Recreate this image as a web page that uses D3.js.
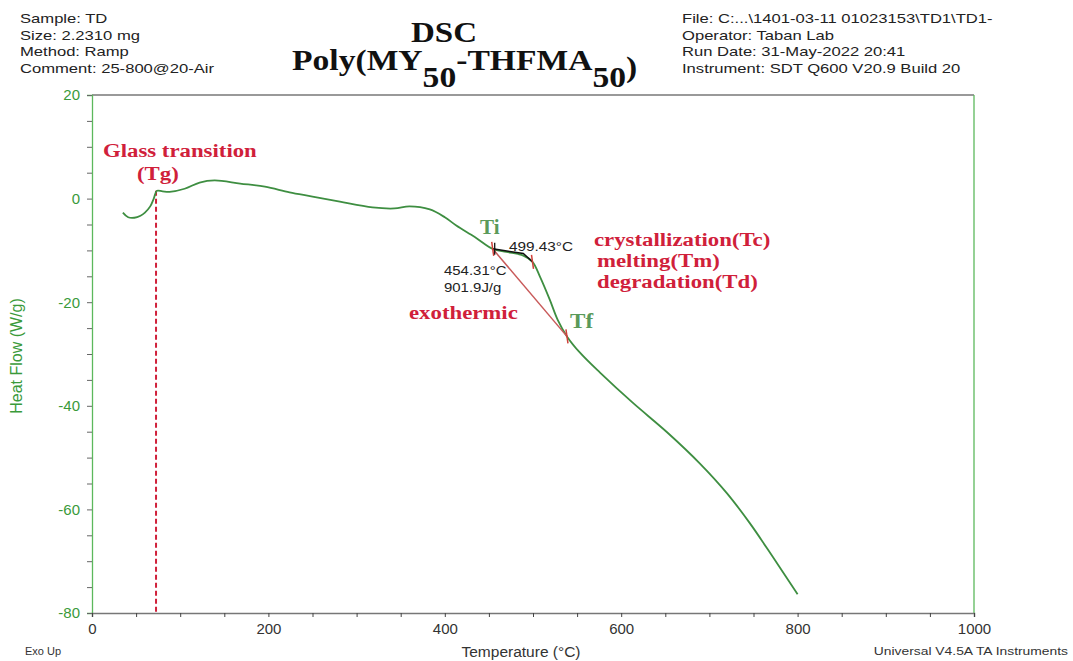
<!DOCTYPE html>
<html>
<head>
<meta charset="utf-8">
<script src="https://cdn.jsdelivr.net/npm/d3@7"></script>
<style>
  body { margin: 0; background: #fff; }
  svg { display: block; }
</style>
</head>
<body>
<script>
// DSC trace: temperature (°C) and heat flow (W/g)
const temps = [35, 41, 48, 55, 60, 66, 70, 73.6, 80, 88, 105, 122, 139, 168, 196, 224, 250, 281, 318, 343, 360, 383, 400, 413, 434,
  454.31, 470, 489, 499.43, 508, 519, 528, 538.5, 553, 576, 613, 652, 689, 720, 746, 772, 800];
const heatFlow = [-2.7, -3.6, -3.7, -3.3, -2.7, -1.5, 0.0, 1.5, 1.4, 1.3, 1.9, 3.1, 3.5, 2.9, 2.3, 1.2, 0.4, -0.6, -1.7, -1.9, -1.5, -2.1, -3.6, -5.2, -7.4,
  -9.7, -10.3, -11.0, -12.2, -15.1, -19.5, -23.4, -26.6, -29.7, -33.6, -39.4, -45.1, -51.1, -56.9, -62.7, -69.2, -76.4];

// markers on the curve
const tgTemp = 72.6;
const tiPoint = [454.31, -9.7];
const tmPoint = [499.43, -12.2];
const tfPoint = [538.5, -26.6];

const xTicks = [0, 200, 400, 600, 800, 1000];
const yTicks = [-80, -60, -40, -20, 0, 20];

const headerLeft = ["Sample: TD", "Size:  2.2310 mg", "Method: Ramp", "Comment: 25-800@20-Air"];
const headerRight = ["File: C:...\\1401-03-11 01023153\\TD1\\TD1-", "Operator: Taban Lab", "Run Date: 31-May-2022 20:41", "Instrument: SDT Q600 V20.9 Build 20"];
const phaseLines = ["crystallization(Tc)", "melting(Tm)", "degradation(Td)"];

const W = 1073, H = 661;
const green = "#3e8e41", axisGreen = "#5cb85c", red = "#d0203a";
const serif = "'Liberation Serif','Times New Roman',serif", sans = "'Liberation Sans',Arial,sans-serif";

const svg = d3.select("body").append("svg").attr("width", W).attr("height", H);

const x = d3.scaleLinear().domain([0, 1000]).range([92, 974]);
const y = d3.scaleLinear().domain([-80, 20]).range([613, 95]);

// the picture is stretched sideways, so texts get a horizontal scale
function label(px, py, txt, font, fill, sx, anchor) {
  return svg.append("text")
    .attr("transform", "translate(" + px + "," + py + ") scale(" + (sx || 1) + ",1)")
    .attr("text-anchor", anchor || "start")
    .style("font", font).style("fill", fill).text(txt);
}

// header texts
headerLeft.forEach((d, i) => label(20, 23 + i * 16.5, d, "13.5px " + sans, "#222", 1.23));
headerRight.forEach((d, i) => label(682, 23 + i * 16.5, d, "13.5px " + sans, "#222", 1.23));

// title
label(444, 42, "DSC", "bold 30px " + serif, "#111", 1.1, "middle");
const t2 = label(292, 70, "", "bold 30px " + serif, "#111", 1.12);
t2.append("tspan").text("Poly(MY");
t2.append("tspan").attr("dy", 17).text("50");
t2.append("tspan").attr("dy", -17).text("-THFMA");
t2.append("tspan").attr("dy", 17).text("50");
t2.append("tspan").attr("dy", -10).text(")");

// frame: top and bottom grey, left and right green
svg.append("line").attr("x1", x(0)).attr("x2", x(1000)).attr("y1", y(20)).attr("y2", y(20)).style("stroke", "#777").style("stroke-width", 1.5);
svg.append("line").attr("x1", x(1000)).attr("x2", x(1000)).attr("y1", y(20)).attr("y2", y(-80)).style("stroke", axisGreen).style("stroke-width", 1.3);

// y axis
const yAxis = svg.append("g").attr("transform", "translate(" + x(0) + ",0)")
  .call(d3.axisLeft(y).tickValues(d3.range(-80, 21, 5)).tickSize(5).tickFormat(d => yTicks.includes(d) ? d : ""));
yAxis.select(".domain").style("stroke", axisGreen).style("stroke-width", 1.3);
yAxis.selectAll(".tick line").style("stroke", "#666");
yAxis.selectAll(".tick text").attr("x", -12).style("font", "15px " + sans).style("fill", "#3a9a3a");

// x axis
const xAxis = svg.append("g").attr("transform", "translate(0," + y(-80) + ")")
  .call(d3.axisBottom(x).tickValues(d3.range(0, 1001, 50)).tickSize(4).tickFormat(d => xTicks.includes(d) ? d : ""));
xAxis.select(".domain").style("stroke", "#777").style("stroke-width", 1.5);
xAxis.selectAll(".tick line").style("stroke", "#444");
xAxis.selectAll(".tick text").attr("y", 10).style("font", "15px " + sans).style("fill", "#333");

// axis titles
svg.append("text").attr("transform", "translate(22,356) rotate(-90)").attr("text-anchor", "middle")
  .style("font", "16px " + sans).style("fill", "#3a9a3a").text("Heat Flow (W/g)");
label(521, 657, "Temperature (°C)", "15.5px " + sans, "#333", 1, "middle");
label(25, 655, "Exo Up", "11px " + sans, "#333");
label(1068, 655, "Universal V4.5A TA Instruments", "11px " + sans, "#333", 1.26, "end");

// Tg dashed line
svg.append("line").attr("x1", x(tgTemp)).attr("x2", x(tgTemp)).attr("y1", y(1.5)).attr("y2", y(-80))
  .style("stroke", red).style("stroke-width", 2).style("stroke-dasharray", "5,3");

// curve
const line = d3.line().x(d => x(d[0])).y(d => y(d[1])).curve(d3.curveCatmullRom.alpha(0.5));
svg.append("path").datum(temps.map((t, i) => [t, heatFlow[i]]))
  .attr("d", line).style("fill", "none").style("stroke", green).style("stroke-width", 1.8);

// exothermic baseline and integration limits
svg.append("line").attr("x1", x(tiPoint[0])).attr("y1", y(tiPoint[1])).attr("x2", x(tfPoint[0])).attr("y2", y(tfPoint[1]))
  .style("stroke", "#c85a5a").style("stroke-width", 1.5);
svg.append("path").attr("d", d3.line()([[x(tiPoint[0]), y(tiPoint[1])], [x(489), y(-10.6)], [x(tmPoint[0]), y(tmPoint[1])]]))
  .style("fill", "none").style("stroke", "#111").style("stroke-width", 1.5);
[tiPoint, tmPoint, tfPoint].forEach(p => {
  svg.append("line").attr("x1", x(p[0]) - 1).attr("x2", x(p[0]) + 1).attr("y1", y(p[1]) - 7).attr("y2", y(p[1]) + 7)
    .style("stroke", "#d0403a").style("stroke-width", 1.5);
});
svg.append("line").attr("x1", x(tiPoint[0]) + 2).attr("x2", x(tiPoint[0]) + 2).attr("y1", y(tiPoint[1]) - 6).attr("y2", y(tiPoint[1]) + 6)
  .style("stroke", "#111").style("stroke-width", 1.3);

// annotation texts
label(103, 157, "Glass transition", "bold 19px " + serif, red, 1.2);
label(137, 180, "(Tg)", "bold 19px " + serif, red, 1.2);
label(480, 234, "Ti", "bold 21px " + serif, "#5a9a5a");
label(570, 328, "Tf", "bold 21px " + serif, "#5a9a5a", 1.1);
label(509, 251, "499.43°C", "13px " + sans, "#222", 1.18);
label(444, 275, "454.31°C", "13px " + sans, "#222", 1.15);
label(444, 292, "901.9J/g", "13px " + sans, "#222", 1.15);
label(409, 319, "exothermic", "bold 19px " + serif, red, 1.2);
phaseLines.forEach((d, i) => label(i === 0 ? 594 : 597, 246 + i * 21, d, "bold 19px " + serif, red, 1.2));
</script>
</body>
</html>
